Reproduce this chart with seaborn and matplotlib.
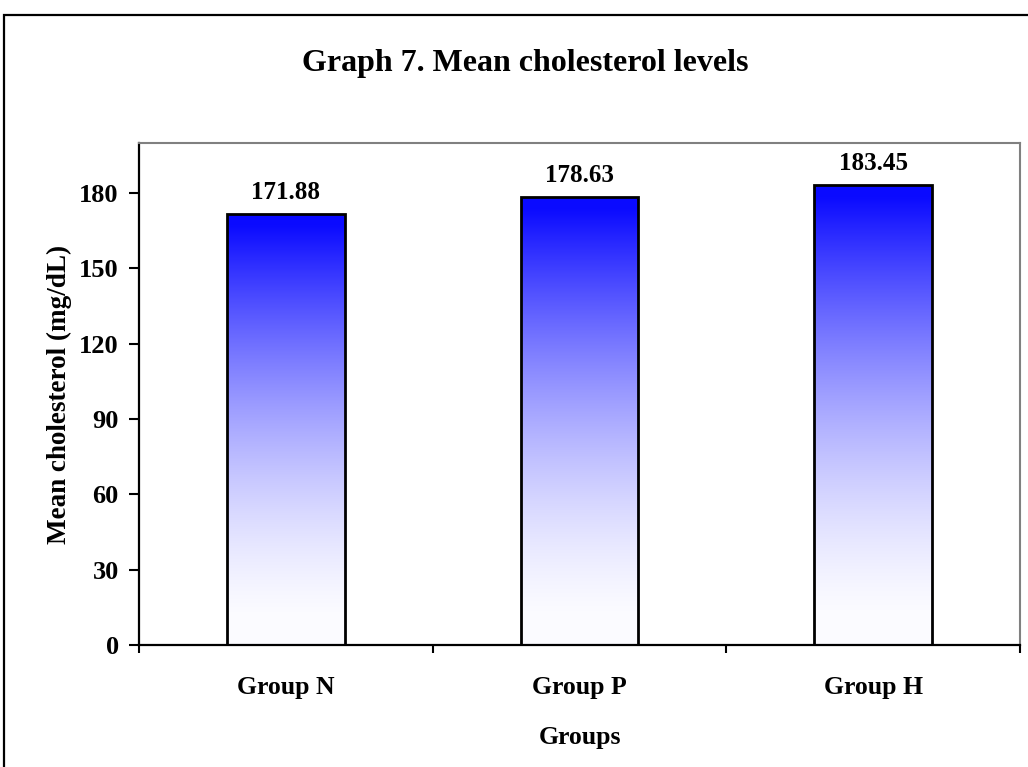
import numpy as np
import pandas as pd
import matplotlib
matplotlib.use("Agg")
import matplotlib.pyplot as plt
import seaborn as sns
from matplotlib.patches import Rectangle

# ---- data ----
groups = ["Group N", "Group P", "Group H"]
mean_chol = [171.88, 178.63, 183.45]
y_ticks = [0, 30, 60, 90, 120, 150, 180]

sns.set_theme(style="white")
plt.rcParams['font.family'] = ['Liberation Serif', 'DejaVu Serif']
plt.rcParams['font.weight'] = 'bold'
plt.rcParams['text.color'] = 'black'
plt.rcParams['axes.labelcolor'] = 'black'
plt.rcParams['xtick.color'] = 'black'
plt.rcParams['ytick.color'] = 'black'

W, H = 1028, 767
fig = plt.figure(figsize=(W / 100, H / 100), dpi=100)
ax = fig.add_axes([139 / W, 1 - 645 / H, 881 / W, 502 / H])

df = pd.DataFrame({"group": groups, "value": mean_chol})
sns.barplot(data=df, x="group", y="value", color="white", edgecolor="black",
            linewidth=2, width=0.4, saturation=1, ax=ax, zorder=2)

ax.set_xlim(-0.5, 2.5)
ax.set_ylim(0, 200)

# gradient fill (blue at top -> white at bottom)
h = np.linspace(0, 1, 256)
r = 1 - h ** 1.6
r = np.clip(r, 0.04, 0.985)
grad = np.zeros((256, 1, 3))
grad[:, 0, 0] = r
grad[:, 0, 1] = r
grad[:, 0, 2] = 1.0
for p in ax.patches:
    x0, w, ht = p.get_x(), p.get_width(), p.get_height()
    im = ax.imshow(grad, extent=[x0, x0 + w, 0, ht], origin='lower',
                   aspect='auto', zorder=1.5, interpolation='bilinear')
    im.set_clip_path(p)
    p.set_facecolor('none')
    p.set_zorder(2)

ax.set_xlim(-0.5, 2.5)
ax.set_ylim(0, 200)

# value labels
for c in ax.containers:
    ax.bar_label(c, fmt='%.2f', padding=7, fontsize=18, fontweight='bold', color='black')

# ticks
ax.set_yticks(y_ticks)
ax.set_yticklabels([str(v) for v in y_ticks])
ax.tick_params(axis='y', which='major', direction='out', length=7.5, width=1.5,
               color='black', labelcolor='black', labelsize=19, pad=7, left=True)
ax.set_xticks(range(len(groups)))
ax.set_xticklabels(groups)
ax.set_xticks([-0.5, 0.5, 1.5, 2.5], minor=True)
ax.tick_params(axis='x', which='major', length=0, labelsize=18.5, pad=22, labelcolor='black')
ax.tick_params(axis='x', which='minor', direction='out', length=6, width=1.5,
               color='black', bottom=True)
for lab in ax.get_xticklabels() + ax.get_yticklabels():
    lab.set_fontweight('bold')

ax.set_xlabel("Groups", fontsize=18.5, fontweight='bold', labelpad=20, color='black')
ax.set_ylabel("Mean cholesterol (mg/dL)", fontsize=19.5, fontweight='bold', labelpad=5, color='black')

for s in ['left', 'bottom']:
    ax.spines[s].set_color('black')
    ax.spines[s].set_linewidth(1.6)
for s in ['top', 'right']:
    ax.spines[s].set_color('#808080')
    ax.spines[s].set_linewidth(1.5)
ax.set_facecolor('white')

fig.text(525 / W, 1 - 63 / H, "Graph 7. Mean cholesterol levels", ha='center', va='center',
         fontsize=23, fontweight='bold', color='black')

fig.patches.append(Rectangle((4 / W, -0.1), 1.2, 1 - 15 / H + 0.1, transform=fig.transFigure,
                             fill=False, edgecolor='black', linewidth=1.6))

fig.savefig("out.png", dpi=100, facecolor='white')
